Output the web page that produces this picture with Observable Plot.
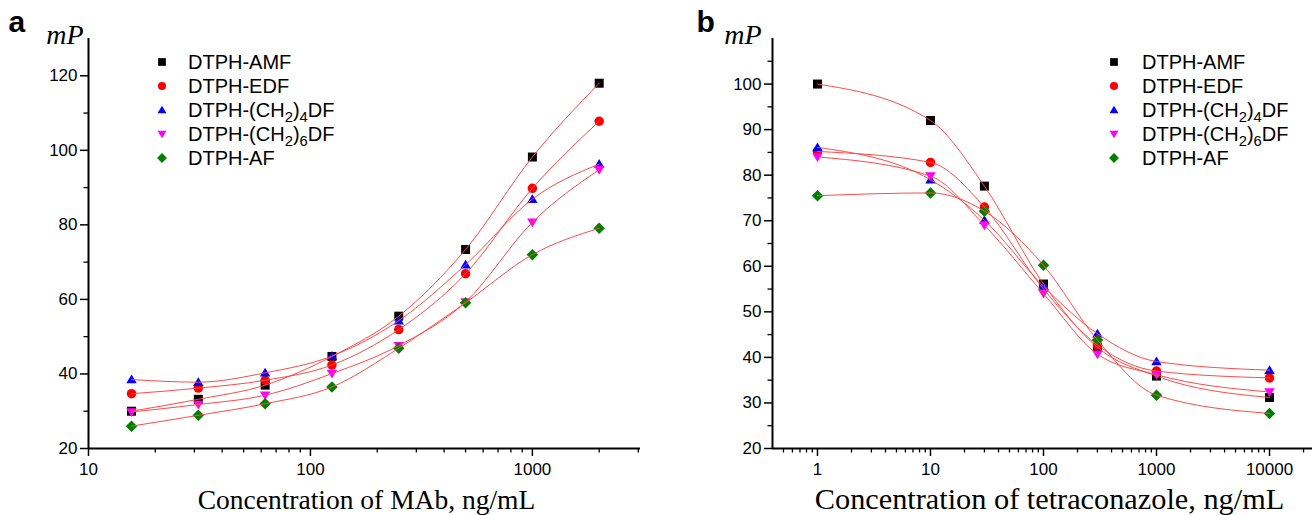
<!DOCTYPE html>
<html>
<head>
<meta charset="utf-8">
<script src="https://cdn.jsdelivr.net/npm/d3@7"></script>
<script src="https://cdn.jsdelivr.net/npm/@observablehq/plot@0.6"></script>
<style>
  html, body { margin: 0; padding: 0; background: #fff; }
  #fig { position: relative; width: 1315px; height: 515px; overflow: hidden;
         font-family: "Liberation Sans", Arial, sans-serif; }
  .panel { position: absolute; top: 0; }
  .legend { position: absolute; font-size: 20px; color: #000; }
  .legend .row { display: flex; align-items: center; height: 24px; line-height: 24px; white-space: nowrap; }
  .legend svg { display: block; flex: none; }
  .legend sub { font-size: 0.74em; vertical-align: -0.32em; line-height: 0; }
</style>
</head>
<body>
<div id="fig"></div>
<script>
// ---- Series shared by both panels ----
const seriesNames = ["DTPH-AMF", "DTPH-EDF", "DTPH-(CH2)4DF", "DTPH-(CH2)6DF", "DTPH-AF"];
const seriesLabelsHtml = ["DTPH-AMF", "DTPH-EDF", "DTPH-(CH<sub>2</sub>)<sub>4</sub>DF", "DTPH-(CH<sub>2</sub>)<sub>6</sub>DF", "DTPH-AF"];
const seriesColors = ["#000000", "#ff0000", "#0000ff", "#ff00ff", "#007f00"];

// ---- Panel a: mP versus antibody concentration (ng/mL) ----
const mabConc = [15.625, 31.25, 62.5, 125, 250, 500, 1000, 2000];
const mabAMF = [30, 33.2, 37, 44.7, 55.5, 73.4, 98.2, 118];
const mabEDF = [34.7, 36.2, 38.3, 42.4, 51.9, 66.9, 89.8, 107.8];
const mabC4  = [38.5, 37.8, 40.3, 44.8, 54.3, 69.3, 86.9, 96.3];
const mabC6  = [29.8, 31.8, 34.3, 40.1, 47.6, 59.3, 80.7, 94.8];
const mabAF  = [26, 28.9, 32, 36.5, 46.9, 59.1, 72, 79.1];
const mabXTicks = [10, 100, 1000];
const mabYTicks = [20, 40, 60, 80, 100, 120];

// ---- Panel b: mP versus tetraconazole concentration (ng/mL) ----
const tetConc = [1, 10, 30, 100, 300, 1000, 10000];
const tetAMF = [100, 92, 77.6, 56.1, 42.2, 35.9, 31.2];
const tetEDF = [85.2, 82.8, 73, 55, 42.7, 37, 35.5];
const tetC4  = [86.1, 79, 70.1, 55.6, 45.2, 39.1, 37.2];
const tetC6  = [84, 79.8, 69, 54, 40.7, 36.2, 32.4];
const tetAF  = [75.5, 76.1, 72.1, 60.2, 43.8, 31.7, 27.7];
const tetXTicks = [1, 10, 100, 1000, 10000];
const tetYTicks = [20, 30, 40, 50, 60, 70, 80, 90, 100];

// ---- Marker shapes (d3-style symbol objects) ----
const symbols = [
  { draw(c, s) { const r = Math.sqrt(s / Math.PI), h = 0.9 * r; c.rect(-h, -h, 2 * h, 2 * h); } },
  { draw(c, s) { const r = 0.95 * Math.sqrt(s / Math.PI); c.moveTo(r, 0); c.arc(0, 0, r, 0, 2 * Math.PI); } },
  { draw(c, s) { const r = Math.sqrt(s / Math.PI); c.moveTo(0, -r); c.lineTo(1.05 * r, 0.75 * r); c.lineTo(-1.05 * r, 0.75 * r); c.closePath(); } },
  { draw(c, s) { const r = Math.sqrt(s / Math.PI); c.moveTo(0, r); c.lineTo(1.05 * r, -0.75 * r); c.lineTo(-1.05 * r, -0.75 * r); c.closePath(); } },
  { draw(c, s) { const r = 1.15 * Math.sqrt(s / Math.PI); c.moveTo(0, -r); c.lineTo(r, 0); c.lineTo(0, r); c.lineTo(-r, 0); c.closePath(); } }
];

// log-axis minor ticks: 2..9 within each decade that falls inside the domain
function minorLogTicks(lo, hi) {
  const out = [];
  for (let e = Math.floor(Math.log10(lo)); e <= Math.ceil(Math.log10(hi)); e++) {
    for (let k = 2; k <= 9; k++) {
      const v = k * Math.pow(10, e);
      if (v > lo * 1.001 && v < hi * 0.999) out.push(v);
    }
  }
  return out;
}

function makePanel(cfg) {
  const rows = cfg.values.flatMap((vals, s) => vals.map((v, j) => ({ conc: cfg.conc[j], mp: v, s })));
  const sans = "Liberation Sans, Arial, sans-serif";
  const serif = "Liberation Serif, Times New Roman, serif";
  const tickFont = 17;
  const noText = () => "";
  const marks = [
    // tick marks (labels are drawn by the text marks below)
    Plot.axisX(cfg.xTicks, { tickSize: 8, strokeWidth: 1.5, tickFormat: noText, label: null }),
    Plot.axisX(minorLogTicks(cfg.xDomain[0], cfg.xDomain[1]), { tickSize: 4.5, strokeWidth: 1.3, tickFormat: noText, label: null }),
    Plot.axisY(cfg.yTicks, { tickSize: 8, strokeWidth: 1.5, tickFormat: noText, label: null }),
    Plot.axisY(cfg.yMinor, { tickSize: 4.5, strokeWidth: 1.3, tickFormat: noText, label: null }),
    Plot.text(cfg.xTicks, { x: d => d, text: d => String(d), frameAnchor: "bottom", lineAnchor: "top", dy: 14,
      fontFamily: sans, fontSize: tickFont }),
    Plot.text(cfg.yTicks, { y: d => d, text: d => String(d), frameAnchor: "left", textAnchor: "end", dx: -11,
      fontFamily: sans, fontSize: tickFont }),
    // axis lines
    Plot.ruleY([cfg.yDomain[0]], { strokeWidth: 2 }),
    Plot.ruleX([cfg.xDomain[0]], { strokeWidth: 2 }),
    // measured points and the curves through them
    ...cfg.values.map((_, s) => Plot.dot(rows.filter(d => d.s === s), {
      x: "conc", y: "mp", r: 5, fill: seriesColors[s], symbol: symbols[s]
    })),
    Plot.line(rows, { x: "conc", y: "mp", z: "s", stroke: "#ff4a4a", strokeWidth: 1, curve: "monotone-x" }),
    // titles
    Plot.text([cfg.title], { text: d => d, frameAnchor: "bottom", lineAnchor: "bottom", dy: 60, dx: cfg.titleDx,
      fontFamily: serif, fontSize: cfg.titleSize }),
    Plot.text(["mP"], { text: d => d, frameAnchor: "top-left", lineAnchor: "bottom", textAnchor: "end", dx: cfg.mpDx, dy: 5,
      fontFamily: serif, fontStyle: "italic", fontSize: 28 }),
    Plot.text([cfg.letter], { text: d => d, frameAnchor: "top-left", lineAnchor: "bottom", textAnchor: "start", dx: cfg.letterDx, dy: -7,
      fontFamily: sans, fontWeight: "bold", fontSize: 30 })
  ];
  return Plot.plot({
    width: cfg.width, height: 515,
    marginLeft: cfg.marginLeft, marginRight: cfg.marginRight, marginTop: 38, marginBottom: 67,
    x: { type: "log", domain: cfg.xDomain, label: null },
    y: { domain: cfg.yDomain, label: null },
    style: { fontFamily: sans, fontSize: "17px", color: "#000", background: "transparent", overflow: "visible" },
    marks
  });
}

function makeLegend(left, top, textGap) {
  const div = document.createElement("div");
  div.className = "legend";
  div.style.left = left + "px";
  div.style.top = top + "px";
  seriesNames.forEach((name, i) => {
    const row = document.createElement("div");
    row.className = "row";
    const path = d3.symbol(symbols[i], Math.PI * 4.3 * 4.3)();
    row.innerHTML = `<svg width="24" height="24" viewBox="-12 -12 24 24"><path d="${path}" fill="${seriesColors[i]}"></path></svg>` +
      `<span style="margin-left:${textGap}px" title="${name}">${seriesLabelsHtml[i]}</span>`;
    div.appendChild(row);
  });
  return div;
}

const fig = document.getElementById("fig");

const panelA = makePanel({
  conc: mabConc, values: [mabAMF, mabEDF, mabC4, mabC6, mabAF],
  xDomain: [10, 3070], yDomain: [20, 130], width: 660, marginLeft: 88, marginRight: 20,
  xTicks: mabXTicks, yTicks: mabYTicks, yMinor: [30, 50, 70, 90, 110],
  title: "Concentration of MAb, ng/mL", titleDx: 2, titleSize: 27.5, letter: "a", letterDx: -80, mpDx: -5
});
panelA.classList.add("panel");
panelA.style.left = "0px";
fig.appendChild(panelA);

const panelB = makePanel({
  conc: tetConc, values: [tetAMF, tetEDF, tetC4, tetC6, tetAF],
  xDomain: [0.4, 24000], yDomain: [20, 110], width: 655, marginLeft: 112, marginRight: 3,
  xTicks: tetXTicks, yTicks: tetYTicks, yMinor: [25, 35, 45, 55, 65, 75, 85, 95, 105],
  title: "Concentration of tetraconazole, ng/mL", titleDx: 7, titleSize: 30.3, letter: "b", letterDx: -76, mpDx: -11
});
panelB.classList.add("panel");
panelB.style.left = "660px";
fig.appendChild(panelB);

fig.appendChild(makeLegend(150, 50, 14));
fig.appendChild(makeLegend(1102, 50, 16));
</script>
</body>
</html>
